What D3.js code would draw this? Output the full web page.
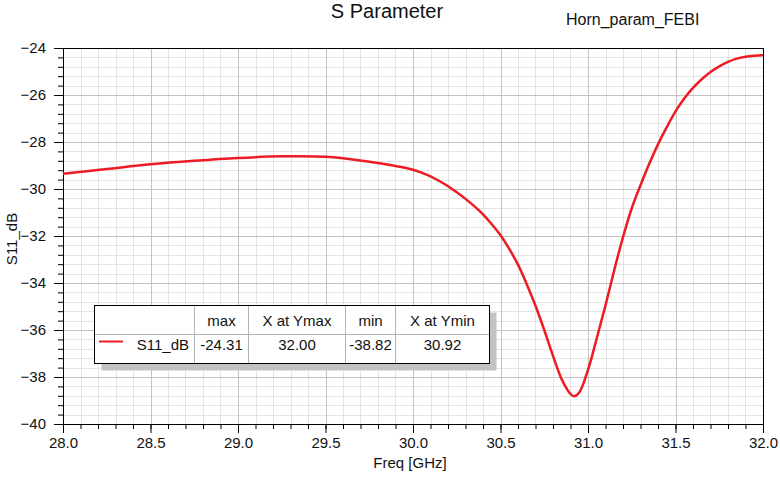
<!DOCTYPE html>
<html>
<head>
<meta charset="utf-8">
<script src="https://cdn.jsdelivr.net/npm/d3@7"></script>
<style>
  body { margin: 0; background: #fff; }
  text { font-family: Arial, "Liberation Sans", sans-serif; fill: #111; }
</style>
</head>
<body>
<div class="chart"></div>
<script>
// S11 curve
const freq = [28.0, 28.25, 28.5, 28.75, 29.0, 29.25, 29.5, 29.75, 29.9,
  30.0, 30.05, 30.1, 30.15, 30.2, 30.25, 30.3, 30.35, 30.4, 30.45, 30.5, 30.55, 30.6, 30.65,
  30.7, 30.75, 30.8, 30.85, 30.9, 30.92, 30.95, 31.0, 31.05, 31.1, 31.15, 31.2, 31.25, 31.3,
  31.35, 31.4, 31.45, 31.5, 31.55, 31.6, 31.65, 31.7, 31.75, 31.8, 31.85, 31.9, 31.95, 32.0]
const s11 = [-29.35, -29.15, -28.95, -28.80, -28.68, -28.61, -28.63, -28.84, -29.02,
  -29.18, -29.31, -29.46, -29.66, -29.88, -30.14, -30.42, -30.73, -31.08, -31.5, -31.97, -32.55, -33.22, -34.05,
  -34.97, -36.0, -37.1, -38.1, -38.72, -38.82, -38.66, -37.7, -36.35, -34.95, -33.45, -32.05, -30.82, -29.84,
  -28.93, -28.1, -27.37, -26.7, -26.15, -25.7, -25.33, -25.02, -24.78, -24.59, -24.45, -24.37, -24.33, -24.31]

const xTicks = [28.0, 28.5, 29.0, 29.5, 30.0, 30.5, 31.0, 31.5, 32.0]
const yTicks = [-40, -38, -36, -34, -32, -30, -28, -26, -24]

const legendHeaders = ['max', 'X at Ymax', 'min', 'X at Ymin']
const legendValues = ['-24.31', '32.00', '-38.82', '30.92']
const seriesName = 'S11_dB'

const svg = d3.select('.chart').append('svg')
  .attr('width', 780)
  .attr('height', 480)

const margin = {top: 48, right: 17, bottom: 56, left: 63}
const width = 780 - margin.left - margin.right
const height = 480 - margin.top - margin.bottom
const g = svg.append('g')
  .attr('transform', `translate(${margin.left}, ${margin.top})`)

const x = d3.scaleLinear().domain([28, 32]).range([0, width])
const y = d3.scaleLinear().domain([-40, -24]).range([height, 0])

const xMinor = d3.range(0, 41).map(i => 28 + i * 0.1)
const yMinor = d3.range(0, 41).map(i => -40 + i * 0.4)

// grid, minor first then major
g.append('g').selectAll('line').data(xMinor).enter().append('line')
  .attr('x1', d => Math.round(x(d)) + 0.5).attr('x2', d => Math.round(x(d)) + 0.5)
  .attr('y1', 0).attr('y2', height)
  .attr('stroke', '#e4e4e4')
g.append('g').selectAll('line').data(yMinor).enter().append('line')
  .attr('y1', d => Math.round(y(d)) + 0.5).attr('y2', d => Math.round(y(d)) + 0.5)
  .attr('x1', 0).attr('x2', width)
  .attr('stroke', '#e4e4e4')
g.append('g').selectAll('line').data(xTicks).enter().append('line')
  .attr('x1', d => Math.round(x(d)) + 0.5).attr('x2', d => Math.round(x(d)) + 0.5)
  .attr('y1', 0).attr('y2', height)
  .attr('stroke', '#c4c4c4')
g.append('g').selectAll('line').data(yTicks).enter().append('line')
  .attr('y1', d => Math.round(y(d)) + 0.5).attr('y2', d => Math.round(y(d)) + 0.5)
  .attr('x1', 0).attr('x2', width)
  .attr('stroke', '#c4c4c4')

// frame
g.append('rect')
  .attr('x', 0.5).attr('y', 0.5)
  .attr('width', width).attr('height', height)
  .attr('fill', 'none').attr('stroke', '#000')

// axes
g.append('g').attr('transform', `translate(0, ${height})`)
  .call(d3.axisBottom(x).tickValues(xTicks).tickFormat(d3.format('.1f')).tickSize(9).tickPadding(4))
g.append('g').attr('transform', `translate(0, ${height})`)
  .call(d3.axisBottom(x).tickValues(xMinor).tickFormat('').tickSize(5))
g.append('g')
  .call(d3.axisLeft(y).tickValues(yTicks).tickFormat(d3.format('d')).tickSize(9).tickPadding(8))
g.append('g')
  .call(d3.axisLeft(y).tickValues(yMinor).tickFormat('').tickSize(5))

g.selectAll('.domain').attr('stroke', '#000')
g.selectAll('.tick line').attr('stroke', '#000')
g.selectAll('.tick text')
  .attr('font-size', 15)
  .attr('font-family', 'Arial, "Liberation Sans", sans-serif')
  .attr('fill', '#111')

// curve
const pts = freq.map((f, i) => [f, s11[i]])
g.append('path')
  .datum(pts)
  .attr('fill', 'none')
  .attr('stroke', '#ed1c24')
  .attr('stroke-width', 2.5)
  .attr('d', d3.line().x(d => x(d[0])).y(d => y(d[1])).curve(d3.curveCatmullRom.alpha(0.5)))

// titles
svg.append('text').attr('x', 387).attr('y', 18)
  .attr('text-anchor', 'middle').attr('font-size', 20)
  .text('S Parameter')
svg.append('text').attr('x', 566).attr('y', 25)
  .attr('font-size', 16)
  .text('Horn_param_FEBI')
svg.append('text').attr('x', 410).attr('y', 468)
  .attr('text-anchor', 'middle').attr('font-size', 15)
  .text('Freq [GHz]')
svg.append('text')
  .attr('transform', 'translate(17, 239) rotate(-90)')
  .attr('text-anchor', 'middle').attr('font-size', 15)
  .text('S11_dB')

// legend table
const colEdges = [94.5, 194.5, 248.5, 345.5, 395.5, 489.5]
const rowTop = 305.5, rowMid = 334.5, rowBottom = 363.5
const lg = svg.append('g')
lg.append('rect')
  .attr('x', colEdges[0] + 7).attr('y', rowTop + 7)
  .attr('width', colEdges[5] - colEdges[0]).attr('height', rowBottom - rowTop)
  .attr('fill', '#c3c3c3')
lg.append('rect')
  .attr('x', colEdges[0]).attr('y', rowTop)
  .attr('width', colEdges[5] - colEdges[0]).attr('height', rowBottom - rowTop)
  .attr('fill', '#fff')
lg.selectAll('line.col').data(colEdges.slice(1, 5)).enter().append('line')
  .attr('x1', d => d).attr('x2', d => d)
  .attr('y1', rowTop).attr('y2', rowBottom)
  .attr('stroke', '#b4b4b4')
lg.append('line')
  .attr('x1', colEdges[0]).attr('x2', colEdges[5])
  .attr('y1', rowMid).attr('y2', rowMid)
  .attr('stroke', '#b4b4b4')
lg.append('rect')
  .attr('x', colEdges[0]).attr('y', rowTop)
  .attr('width', colEdges[5] - colEdges[0]).attr('height', rowBottom - rowTop)
  .attr('fill', 'none').attr('stroke', '#000')

lg.selectAll('text.head').data(legendHeaders).enter().append('text')
  .attr('x', (d, i) => (colEdges[i + 1] + colEdges[i + 2]) / 2)
  .attr('y', 325.5)
  .attr('text-anchor', 'middle').attr('font-size', 15)
  .text(d => d)
lg.selectAll('text.val').data(legendValues).enter().append('text')
  .attr('x', (d, i) => (colEdges[i + 1] + colEdges[i + 2]) / 2)
  .attr('y', 349.5)
  .attr('text-anchor', 'middle').attr('font-size', 15)
  .text(d => d)
lg.append('line')
  .attr('x1', 99).attr('x2', 123)
  .attr('y1', 341.5).attr('y2', 341.5)
  .attr('stroke', '#ed1c24').attr('stroke-width', 2)
lg.append('text')
  .attr('x', 189).attr('y', 349.5)
  .attr('text-anchor', 'end').attr('font-size', 15)
  .text(seriesName)
</script>
</body>
</html>
